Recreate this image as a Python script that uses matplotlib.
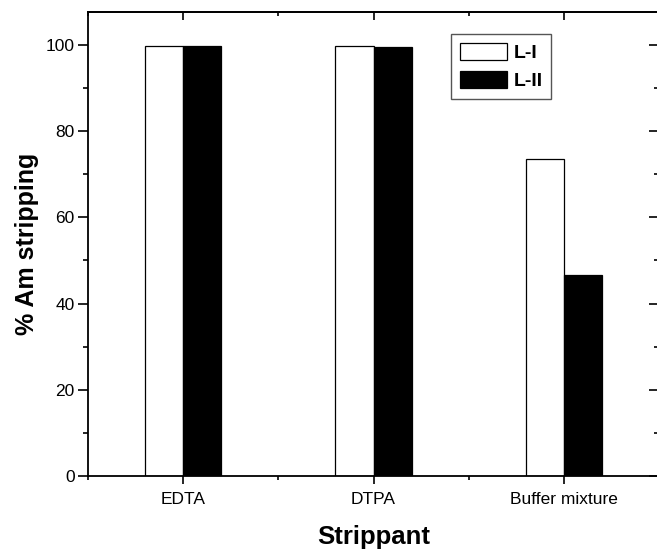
import matplotlib.pyplot as plt
import numpy as np
from matplotlib.ticker import FixedLocator, MultipleLocator, NullFormatter

categories = ["EDTA", "DTPA", "Buffer mixture"]
series_names = ["L-I", "L-II"]
l1_values = [99.6, 99.8, 73.5]
l2_values = [99.6, 99.4, 46.6]

plt.rcParams["font.family"] = ["Liberation Sans", "DejaVu Sans"]

fig = plt.figure(figsize=(6.57, 5.52), dpi=100)
ax = fig.add_axes([88 / 657, 1 - 476 / 552, 571 / 657, 464 / 552])

x = np.arange(1, len(categories) + 1)
w = 0.2
ax.bar(x - w / 2, l1_values, w, color="white", edgecolor="black", linewidth=0.9,
       label=series_names[0])
ax.bar(x + w / 2, l2_values, w, color="black", edgecolor="black", linewidth=0.9,
       label=series_names[1])

ax.set_xlim(0.5, 3.5)
ax.set_ylim(0, 107.6)

for s in ax.spines.values():
    s.set_linewidth(1.3)

ax.set_xticks(x)
ax.set_xticklabels(categories, fontsize=12.5)
ax.xaxis.set_minor_locator(FixedLocator([0.5, 1.5, 2.5, 3.5]))
ax.yaxis.set_major_locator(MultipleLocator(20))
ax.yaxis.set_minor_locator(MultipleLocator(10))
ax.tick_params(axis="y", which="major", direction="out", length=7.5, width=1.2,
               labelsize=12.5, pad=2)
ax.tick_params(axis="y", which="minor", direction="out", length=3.6, width=1.2)
ax.tick_params(axis="x", which="major", direction="out", length=5.8, width=1.2,
               labelsize=12.5, pad=6)
ax.tick_params(axis="x", which="minor", direction="out", length=3, width=1.2)

top = ax.secondary_xaxis("top")
top.set_xticks(x)
top.xaxis.set_minor_locator(FixedLocator([0.5, 1.5, 2.5, 3.5]))
top.xaxis.set_major_formatter(NullFormatter())
top.tick_params(which="major", direction="in", length=5.8, width=1.2)
top.tick_params(which="minor", direction="in", length=3, width=1.2)
top.spines["top"].set_linewidth(1.3)

right = ax.secondary_yaxis("right")
right.yaxis.set_major_locator(MultipleLocator(20))
right.yaxis.set_minor_locator(MultipleLocator(10))
right.yaxis.set_major_formatter(NullFormatter())
right.tick_params(which="major", direction="in", length=7, width=1.2)
right.tick_params(which="minor", direction="in", length=3.6, width=1.2)
right.spines["right"].set_linewidth(1.3)

ax.set_xlabel("Strippant", fontsize=18.5, fontweight="bold", labelpad=13)
ax.set_ylabel("% Am stripping", fontsize=18, fontweight="bold", labelpad=5)

leg = ax.legend(loc="upper left", bbox_to_anchor=(0.636, 0.953), borderaxespad=0,
                prop={"size": 14, "weight": "bold"}, fancybox=False,
                edgecolor="#555555", framealpha=1, handlelength=2.4,
                handleheight=1.0, handletextpad=0.35, borderpad=0.45,
                labelspacing=0.45)
leg.get_frame().set_linewidth(1.0)

fig.savefig("out.png", dpi=100)
